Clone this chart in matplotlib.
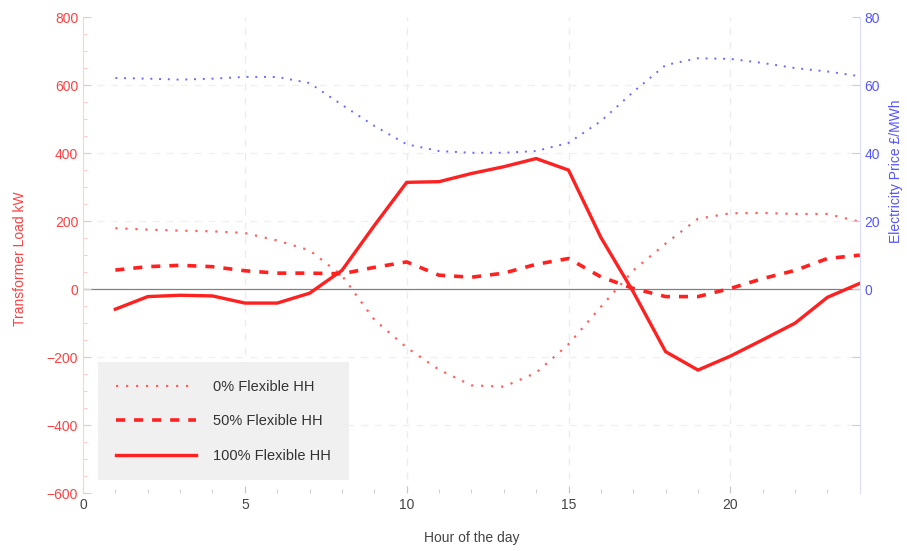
import numpy as np
import matplotlib.pyplot as plt
from matplotlib.ticker import MultipleLocator

plt.rcParams['font.family'] = ['Liberation Sans', 'DejaVu Sans']

# Hour of the day
hours = np.arange(1, 25)

# Transformer load (kW) for different shares of flexible households
load_0 = np.array([179, 175, 172, 170, 165, 143, 114, 40, -90, -172, -237, -283,
                   -287, -246, -162, -52, 55, 134, 207, 223, 224, 221, 221, 198])
load_50 = np.array([56, 66, 70, 66, 54, 47, 47, 45, 64, 80, 41, 35,
                    47, 73, 90, 36, 2, -22, -22, 2, 31, 55, 90, 100])
load_100 = np.array([-59, -22, -18, -20, -41, -41, -12, 55, 187, 314, 316, 340,
                     360, 384, 350, 152, -8, -184, -238, -197, -149, -100, -24, 17])

# Electricity price (GBP/MWh)
price = np.array([62.1, 61.9, 61.6, 61.9, 62.4, 62.4, 60.6, 54.2, 48.0, 42.6, 40.6, 40.1,
                  40.1, 40.6, 43.0, 49.4, 58.0, 65.9, 67.9, 67.7, 66.5, 65.0, 64.0, 62.6])

left_ticks = [-600, -400, -200, 0, 200, 400, 600, 800]
left_labels = ['\u2212600', '\u2212400', '\u2212200', '0', '200', '400', '600', '800']
right_ticks = [-40, -20, 0, 20, 40, 60, 80]
right_labels = ['', '', '0', '20', '40', '60', '80']

red = '#ff2020'
red_lab = '#ff4040'
blue = '#5555ff'

fig = plt.figure(figsize=(9.07, 5.51), dpi=100)
ax = fig.add_axes([0.0915, 0.105, 0.8565, 0.864])
ax2 = ax.twinx()

# grid + zero line
for x in [5, 10, 15, 20]:
    ax.axvline(x, color='#ececec', lw=1.0, ls=(0, (5, 5)), zorder=0)
for y in [-400, -200, 200, 400, 600]:
    ax.axhline(y, color='#f0f0f0', lw=1.0, ls=(0, (5, 5)), zorder=0)
ax.axhline(0, color='#808080', lw=0.9, zorder=1)

l0, = ax.plot(hours, load_0, color='#ff6060', lw=1.6, ls=(0, (1, 3.5)), label='0% Flexible HH')
l50, = ax.plot(hours, load_50, color=red, lw=2.6, ls=(0, (2.5, 2.5)), label='50% Flexible HH')
l100, = ax.plot(hours, load_100, color=red, lw=2.4, label='100% Flexible HH')
ax2.plot(hours, price, color='#6a6aff', lw=1.4, ls=(0, (1, 3.5)))

ax.set_xlim(0, 24)
ax.set_ylim(-600, 800)
ax2.set_ylim(-60, 80)

ax.xaxis.set_major_locator(MultipleLocator(5))
ax.xaxis.set_minor_locator(MultipleLocator(1))
ax.set_yticks(left_ticks)
ax.set_yticklabels(left_labels)
ax.yaxis.set_minor_locator(MultipleLocator(50))
ax2.set_yticks(right_ticks)
ax2.set_yticklabels(right_labels)

ax.tick_params(axis='x', which='both', direction='in', colors='#c8c8c8',
               labelcolor='#444444', labelsize=10)
ax.tick_params(axis='x', which='major', length=5)
ax.tick_params(axis='x', which='minor', length=3)
ax.tick_params(axis='y', which='both', direction='in', colors='#ffc0c0',
               labelcolor=red_lab, labelsize=10)
ax.tick_params(axis='y', which='major', length=6)
ax.tick_params(axis='y', which='minor', length=3)
ax2.tick_params(axis='y', direction='in', colors='#c8c8ff', labelcolor=blue,
                labelsize=10, length=6)

for a in (ax, ax2):
    a.spines['top'].set_visible(False)
    a.spines['bottom'].set_visible(False)
ax.spines['left'].set_color('#ffd0d0')
ax2.spines['left'].set_visible(False)
ax.spines['right'].set_visible(False)
ax2.spines['right'].set_color('#dcdcff')

ax.set_xlabel('Hour of the day', color='#444444', fontsize=10, labelpad=14)
fig.text(0.022, 0.53, 'Transformer Load kW', rotation=90, color=red_lab,
         fontsize=10, ha='center', va='center')
fig.text(0.988, 0.69, 'Electricity Price \u00a3/MWh', rotation=90, color=blue,
         fontsize=10, ha='center', va='center')

leg = ax.legend(handles=[l0, l50, l100], loc='lower left', bbox_to_anchor=(0.01, 0.012),
                frameon=True, fancybox=False, fontsize=10.5, handlelength=5.5,
                labelspacing=1.4, borderpad=1.2, handletextpad=1.2)
leg.get_frame().set_facecolor('#f0f0f0')
leg.get_frame().set_edgecolor('none')
leg.get_frame().set_alpha(1)
for t in leg.get_texts():
    t.set_color('#333333')

fig.savefig('out.png', dpi=100)
